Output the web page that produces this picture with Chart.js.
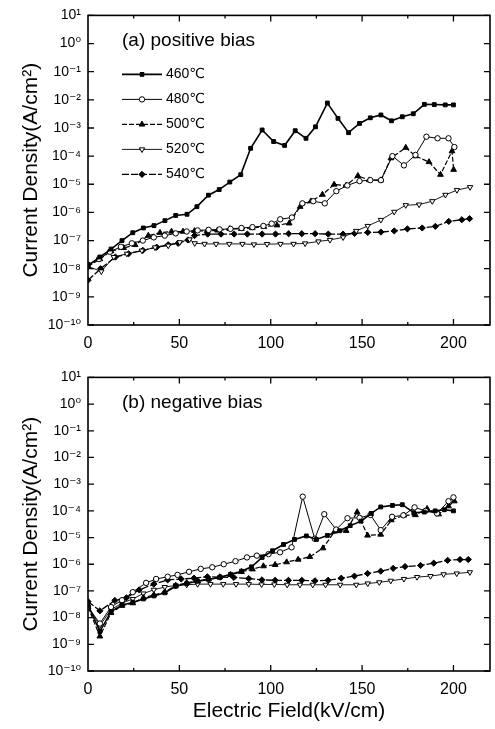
<!DOCTYPE html>
<html>
<head>
<meta charset="utf-8">
<script src="https://cdn.jsdelivr.net/npm/chart.js"></script>
<style>
body { margin: 0; background: #fff; }
canvas { position: absolute; left: 0; }
#top { top: 0; }
#bottom { top: 362px; }
</style>
</head>
<body>
<canvas id="top" width="495" height="362"></canvas>
<canvas id="bottom" width="495" height="367"></canvas>
<script>
// series names
const temps = ['460℃', '480℃', '500℃', '520℃', '540℃']
const decades = [1e-10, 1e-9, 1e-8, 1e-7, 1e-6, 1e-5, 1e-4, 1e-3, 1e-2, 1e-1, 1e0, 1e1]
const xTicks = [0, 50, 100, 150, 200]

// (a) positive bias
const posX460 = [0, 6.5, 12.6, 18.6, 24.5, 30.3, 36.1, 42.1, 48.0, 54.2, 59.6, 65.9, 71.8, 77.6, 83.6, 89.0, 95.3, 101.6, 107.6, 113.4, 119.3, 124.5, 131.0, 136.8, 142.6, 148.6, 154.5, 160.3, 166.1, 172.0, 178.0, 184.1, 189.5, 195.5, 200]
const posJ460 = [1.3e-8, 2.6e-8, 5e-8, 1.0e-7, 1.9e-7, 2.8e-7, 3.4e-7, 5.1e-7, 7.8e-7, 8.6e-7, 1.6e-6, 4.1e-6, 6.5e-6, 1.2e-5, 2.2e-5, 1.9e-4, 8.5e-4, 3.3e-4, 2.4e-4, 8e-4, 4.3e-4, 1.1e-3, 7.7e-3, 2.2e-3, 6.8e-4, 1.45e-3, 2.3e-3, 2.9e-3, 1.8e-3, 2.5e-3, 3.2e-3, 6.9e-3, 6.8e-3, 6.6e-3, 6.6e-3]
const posX480 = [0, 6, 12, 18, 24, 30, 36, 42, 48, 54, 60, 66, 72, 78, 84, 90, 96, 100.5, 105.2, 111.6, 117.3, 123.3, 129.6, 135.9, 141.9, 148.6, 154.5, 160.3, 166.6, 172.9, 179.2, 185.2, 191.3, 197.3, 200.5]
const posJ480 = [1.4e-8, 2.2e-8, 4e-8, 6e-8, 8e-8, 1.0e-7, 1.3e-7, 1.5e-7, 1.8e-7, 2.1e-7, 2.3e-7, 2.4e-7, 2.5e-7, 2.6e-7, 2.8e-7, 3.0e-7, 3.3e-7, 4e-7, 5.7e-7, 6.6e-7, 2.1e-6, 2.5e-6, 2.1e-6, 5.7e-6, 9.1e-6, 1.3e-5, 1.4e-5, 1.4e-5, 1.0e-4, 4.7e-5, 1.1e-4, 4.9e-4, 4.3e-4, 4.3e-4, 2.1e-4]
const posX500 = [0, 6.5, 12.6, 19.5, 25.8, 33.0, 39.4, 45.7, 52.0, 58.3, 65.2, 70.9, 77.6, 83.9, 89.9, 96.2, 103.4, 110.1, 116.1, 122.0, 128.3, 134.7, 141.3, 147.7, 154.0, 160.3, 165.8, 173.9, 179.3, 186.6, 192.9, 199.2, 200.1]
const posJ500 = [1.2e-8, 2.2e-8, 4.2e-8, 5.5e-8, 7e-8, 1.5e-7, 1.9e-7, 2.1e-7, 2.1e-7, 2.2e-7, 2.2e-7, 2.3e-7, 2.6e-7, 2.6e-7, 2.8e-7, 3.1e-7, 3.5e-7, 4.1e-7, 1.6e-6, 2.5e-6, 4.3e-6, 9.8e-6, 9.1e-6, 2.0e-5, 1.4e-5, 1.4e-5, 8.5e-5, 2.0e-4, 1.0e-4, 6.2e-5, 2.2e-5, 1.5e-4, 3.3e-5]
const posX520 = [0, 7.3, 14.1, 21.3, 29.5, 36.7, 43.9, 50.2, 55.6, 58.4, 63.8, 70.1, 77.3, 84.5, 90.8, 98.0, 105.3, 112.5, 118.8, 126.1, 132.4, 139.6, 146.8, 153.1, 160.3, 167.6, 173.9, 181.2, 188.4, 195.6, 201.9, 209.1]
const posJ520 = [1.2e-8, 8e-9, 2.6e-8, 3.4e-8, 4.4e-8, 5.7e-8, 6.6e-8, 8.7e-8, 1.1e-7, 8e-8, 7.6e-8, 7.6e-8, 7.6e-8, 7.6e-8, 7.3e-8, 7.5e-8, 7.6e-8, 7.6e-8, 7.9e-8, 9.3e-8, 1.05e-7, 1.3e-7, 2.2e-7, 3.3e-7, 5.4e-7, 1.05e-6, 1.8e-6, 1.9e-6, 2.5e-6, 4.2e-6, 6.2e-6, 7.9e-6]
const posX540 = [0, 6.9, 15.0, 22.2, 30, 37.6, 43.9, 49.3, 54.7, 58.3, 65.5, 72.8, 80.0, 87.2, 95.3, 102.6, 109.8, 117.0, 124.3, 131.5, 139.6, 145.9, 153.1, 160.3, 167.6, 174.8, 182.9, 190.1, 197.4, 204.6, 208.8]
const posJ540 = [3.9e-9, 1e-8, 2.6e-8, 3.4e-8, 4.5e-8, 5.8e-8, 7.1e-8, 8e-8, 1.05e-7, 1.5e-7, 1.7e-7, 1.7e-7, 1.7e-7, 1.7e-7, 1.7e-7, 1.7e-7, 1.75e-7, 1.75e-7, 1.75e-7, 1.7e-7, 1.7e-7, 1.8e-7, 1.95e-7, 2.0e-7, 2.2e-7, 2.6e-7, 2.8e-7, 3.2e-7, 4.8e-7, 5.5e-7, 6e-7]

// (b) negative bias
const negX460 = [0, 6.5, 12.6, 18.6, 24.5, 30.3, 36.1, 42.0, 48.0, 54.0, 60.0, 66.0, 72.0, 78.0, 84.0, 89.5, 95.3, 101.0, 107.0, 113.0, 119.5, 125.0, 131.0, 137.7, 143.5, 149.4, 155.0, 160.2, 166.6, 172.0, 178.3, 184.0, 190.0, 195.0, 200.0]
const negJ460 = [3e-8, 3e-9, 1.7e-8, 3e-8, 3.7e-8, 5e-8, 6.5e-8, 8.5e-8, 1.5e-7, 1.9e-7, 2.3e-7, 2.7e-7, 3.2e-7, 4.2e-7, 5.5e-7, 8e-7, 1.8e-6, 3.2e-6, 5.5e-6, 8.5e-6, 1.15e-5, 8.5e-6, 1.2e-5, 1.8e-5, 2.8e-5, 4.1e-5, 8e-5, 1.4e-4, 1.6e-4, 1.7e-4, 8.5e-5, 9e-5, 1e-4, 1.1e-4, 1e-4]
const negX480 = [0, 6.5, 12.6, 18.6, 24.5, 31.8, 37.3, 43.6, 49.0, 55.3, 61.7, 68.0, 74.3, 80.7, 87.0, 92.4, 98.8, 105.1, 111.4, 117.5, 124.1, 129.3, 135.8, 142.0, 148.6, 154.6, 160.2, 166.4, 172.6, 178.7, 184.7, 191.0, 197.3, 200.0]
const negJ480 = [2.5e-8, 6e-9, 2.5e-8, 4.5e-8, 9e-8, 2e-7, 2.8e-7, 3.4e-7, 4e-7, 5.2e-7, 6.7e-7, 7.7e-7, 1e-6, 1.3e-6, 1.8e-6, 2.1e-6, 2.4e-6, 2.8e-6, 4.3e-6, 3.4e-4, 9e-6, 7.5e-5, 2e-5, 5.3e-5, 5.5e-5, 7e-5, 1.9e-5, 6e-5, 6.8e-5, 1.35e-4, 1e-4, 8e-5, 2.3e-4, 3.2e-4]
const negX500 = [0, 6.5, 12.6, 18.6, 24.5, 30.3, 36.0, 42.0, 48.0, 54.0, 60.0, 66.0, 72.0, 78.0, 84.0, 90.0, 96.0, 102.4, 108.7, 115.0, 121.4, 128.6, 135.0, 141.3, 147.3, 153.0, 160.2, 166.0, 172.9, 179.2, 185.6, 191.9, 197.3, 200.5]
const negJ500 = [2.5e-8, 2e-9, 1.5e-8, 2.8e-8, 3.5e-8, 5.5e-8, 7e-8, 9e-8, 1.6e-7, 2e-7, 2.4e-7, 2.8e-7, 3.3e-7, 4e-7, 5.2e-7, 6.5e-7, 8.5e-7, 9.5e-7, 1.2e-6, 1.5e-6, 1.9e-6, 4e-6, 1.7e-5, 1.8e-5, 9e-5, 1.2e-5, 1.3e-5, 4.5e-5, 6.8e-5, 7e-5, 1.2e-4, 7.5e-5, 1.5e-4, 2.3e-4]
const negX520 = [0, 6.5, 12.6, 18.6, 24.5, 30.3, 36.0, 42.0, 48.0, 54.0, 60.0, 67.0, 74.0, 81.0, 88.0, 95.0, 102.0, 109.0, 116.0, 123.0, 130.0, 138.0, 146.8, 153.1, 159.4, 165.7, 172.9, 180.1, 187.4, 194.6, 201.8, 209.0]
const negJ520 = [2.5e-8, 5e-9, 2e-8, 3.5e-8, 5e-8, 8e-8, 1.1e-7, 1.4e-7, 1.6e-7, 1.7e-7, 1.8e-7, 1.8e-7, 1.8e-7, 1.8e-7, 1.8e-7, 1.75e-7, 1.75e-7, 1.7e-7, 1.7e-7, 1.7e-7, 1.7e-7, 1.7e-7, 1.7e-7, 1.9e-7, 2.1e-7, 2.4e-7, 2.8e-7, 3.3e-7, 3.6e-7, 4.2e-7, 4.5e-7, 5e-7]
const negX540 = [0, 6.5, 14.7, 21, 28, 36, 43.6, 51, 58.0, 65.3, 72.5, 79.8, 88.0, 95.2, 102.4, 109.7, 117.0, 124.2, 131.4, 138.6, 145.8, 153.0, 160.2, 167.0, 173.5, 182.0, 189.2, 196.8, 203.6, 208.1]
const negJ540 = [4e-8, 1.8e-8, 4.4e-8, 5.5e-8, 1.1e-7, 1.8e-7, 2.6e-7, 2.8e-7, 3e-7, 3.4e-7, 3.3e-7, 3.2e-7, 2.9e-7, 2.6e-7, 2.5e-7, 2.5e-7, 2.5e-7, 2.4e-7, 2.5e-7, 3e-7, 3.6e-7, 4.5e-7, 5.5e-7, 7e-7, 8.2e-7, 9e-7, 1.1e-6, 1.4e-6, 1.5e-6, 1.5e-6]

const FONT = '"Liberation Sans", Arial, "DejaVu Sans", sans-serif'
const sup = {'-': '⁻', '0': '⁰', '1': '¹', '2': '²', '3': '³', '4': '⁴', '5': '⁵', '6': '⁶', '7': '⁷', '8': '⁸', '9': '⁹'}

// marker + line style per temperature
const looks = [
    {pointStyle: 'rect', pointRadius: 2.7, backgroundColor: '#000', borderWidth: 1.6, dash: []},
    {pointStyle: 'circle', pointRadius: 2.7, backgroundColor: '#fff', borderWidth: 1, dash: []},
    {pointStyle: 'triangle', pointRadius: 3.3, backgroundColor: '#000', borderWidth: 1.2, dash: [5, 2]},
    {pointStyle: 'triangle', pointRadius: 3.1, backgroundColor: '#fff', borderWidth: 0.9, dash: [], rotation: 180},
    {pointStyle: 'rectRot', pointRadius: 3.1, backgroundColor: '#000', borderWidth: 1.3, dash: [7, 2]}
]

const pts = (xs, ys) => xs.map((x, i) => ({x: x, y: ys[i]}))

const makeSets = (series) => series.map((s, i) => ({
    label: temps[i],
    data: pts(s[0], s[1]),
    borderColor: '#000',
    backgroundColor: looks[i].backgroundColor,
    borderWidth: looks[i].borderWidth,
    borderDash: looks[i].dash,
    pointStyle: looks[i].pointStyle,
    pointRadius: looks[i].pointRadius,
    pointRotation: looks[i].rotation || 0,
    pointBorderColor: '#000',
    pointBorderWidth: 1,
    pointBackgroundColor: looks[i].backgroundColor,
    tension: 0
}))

const framePlugin = {
    id: 'frame',
    afterDatasetsDraw(chart, args, opts) {
        const ctx = chart.ctx
        const a = chart.chartArea
        const x = chart.scales.x
        const y = chart.scales.y
        ctx.save()
        ctx.strokeStyle = '#000'
        ctx.setLineDash([])
        ctx.lineWidth = 1.6
        ctx.strokeRect(a.left, a.top, a.right - a.left, a.bottom - a.top)
        ctx.lineWidth = 1.3
        ctx.beginPath()
        decades.forEach((v) => {
            const py = y.getPixelForValue(v)
            ctx.moveTo(a.left, py); ctx.lineTo(a.left + 6, py)
            ctx.moveTo(a.right, py); ctx.lineTo(a.right - 6, py)
        })
        for (let v = 25; v < 220; v += 25) {
            const px = x.getPixelForValue(v)
            const l = v % 50 == 0 ? 6 : 3
            ctx.moveTo(px, a.bottom); ctx.lineTo(px, a.bottom - l)
            ctx.moveTo(px, a.top); ctx.lineTo(px, a.top + l)
        }
        ctx.stroke()

        // panel label
        ctx.fillStyle = '#000'
        ctx.font = '19px ' + FONT
        ctx.textBaseline = 'middle'
        ctx.fillText(opts.label, a.left + 34, a.top + 25)

        // legend
        if (opts.legend) {
            ctx.font = '14px ' + FONT
            chart.data.datasets.forEach((ds, i) => {
                const ly = a.top + 59 + i * 25
                const lx = a.left + 34
                ctx.lineWidth = ds.borderWidth
                ctx.setLineDash(ds.borderDash)
                ctx.beginPath()
                ctx.moveTo(lx, ly); ctx.lineTo(lx + 40, ly)
                ctx.stroke()
                ctx.setLineDash([])
                ctx.lineWidth = 1
                ctx.fillStyle = ds.pointBackgroundColor
                Chart.helpers.drawPoint(ctx, {
                    pointStyle: ds.pointStyle,
                    radius: ds.pointRadius,
                    rotation: ds.pointRotation,
                    borderWidth: 1
                }, lx + 20, ly)
                ctx.fillStyle = '#000'
                ctx.fillText(ds.label, lx + 44, ly)
            })
        }
        ctx.restore()
    }
}

const makeChart = (id, series, label, legend, bottom) => {
    return new Chart(document.getElementById(id), {
        type: 'line',
        data: {datasets: makeSets(series)},
        options: {
            responsive: false,
            animation: false,
            devicePixelRatio: 1,
            layout: {padding: {top: bottom ? 1 : 13, right: 2, left: 0, bottom: 0}},
            plugins: {
                legend: {display: false},
                tooltip: {enabled: false},
                frame: {label: label, legend: legend}
            },
            scales: {
                x: {
                    type: 'linear',
                    min: 0,
                    max: 220,
                    afterBuildTicks: (s) => { s.ticks = xTicks.map((v) => ({value: v})) },
                    afterFit: (s) => { s.height = bottom ? 58 : 37 },
                    grid: {display: false, drawTicks: false},
                    border: {display: false},
                    ticks: {color: '#000', padding: 9, maxRotation: 0, autoSkip: false, font: {family: FONT, size: 16}},
                    title: {
                        display: bottom,
                        text: 'Electric Field(kV/cm)',
                        color: '#000',
                        padding: {top: 0, bottom: 5},
                        font: {family: FONT, size: 21}
                    }
                },
                y: {
                    type: 'logarithmic',
                    min: 1e-10,
                    max: 10,
                    afterBuildTicks: (s) => { s.ticks = decades.map((v) => ({value: v, major: true})) },
                    afterFit: (s) => { s.width = 88 },
                    grid: {display: false, drawTicks: false},
                    border: {display: false},
                    ticks: {
                        color: '#000',
                        padding: 7,
                        autoSkip: false,
                        font: {family: FONT, size: 14},
                        callback: (v) => '10' + String(Math.round(Math.log10(v))).split('').map((c) => sup[c]).join('')
                    },
                    title: {
                        display: true,
                        text: 'Current Density(A/cm²)',
                        color: '#000',
                        padding: {top: 19, bottom: 0},
                        font: {family: FONT, size: 21}
                    }
                }
            }
        },
        plugins: [framePlugin]
    })
}

makeChart('top', [[posX460, posJ460], [posX480, posJ480], [posX500, posJ500], [posX520, posJ520], [posX540, posJ540]], '(a) positive bias', true, false)
makeChart('bottom', [[negX460, negJ460], [negX480, negJ480], [negX500, negJ500], [negX520, negJ520], [negX540, negJ540]], '(b) negative bias', false, true)
</script>
</body>
</html>
